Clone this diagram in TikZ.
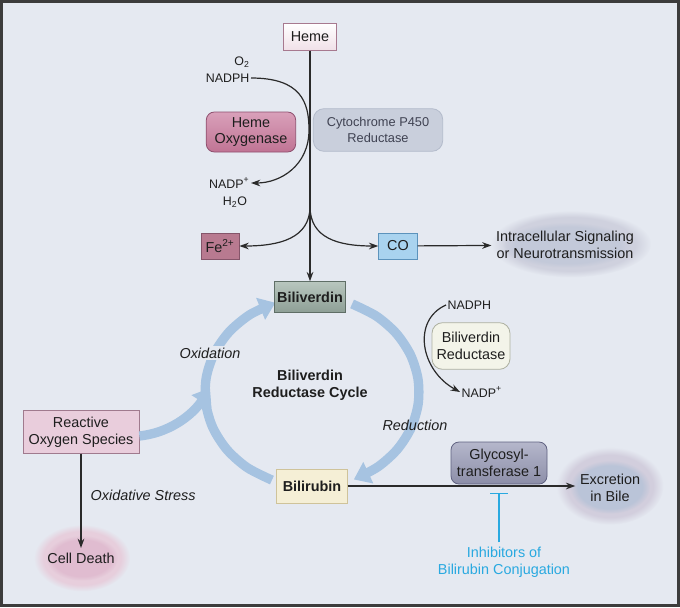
\documentclass[tikz,border=0pt]{standalone}
\usepackage{fontspec}
\setmainfont{Liberation Sans}
\usetikzlibrary{arrows.meta,calc,fadings}

\definecolor{bgpage}{HTML}{E5E9F1}
\definecolor{frame}{HTML}{3C3C3C}
\definecolor{txt}{HTML}{1E1E1E}
\definecolor{ln}{HTML}{2A2A2A}
\definecolor{hemefill}{HTML}{F0E0E8}
\definecolor{hemeln}{HTML}{A7798F}
\definecolor{hotop}{HTML}{D9A0BA}
\definecolor{hofill}{HTML}{C07494}
\definecolor{holn}{HTML}{8E4F6E}
\definecolor{cyfill}{HTML}{C9CFDC}
\definecolor{cyln}{HTML}{B3BBCB}
\definecolor{cytxt}{HTML}{3F4252}
\definecolor{fefill}{HTML}{B87A90}
\definecolor{feln}{HTML}{85556A}
\definecolor{cofill}{HTML}{A9D3EF}
\definecolor{coln}{HTML}{5C93BC}
\definecolor{sighalo}{HTML}{CFD1DE}
\definecolor{sigcore}{HTML}{C3C9D9}
\definecolor{bvtop}{HTML}{B8C6BE}
\definecolor{bvfill}{HTML}{8E9F96}
\definecolor{bvln}{HTML}{5F6E66}
\definecolor{brfill}{HTML}{F5EFD6}
\definecolor{brln}{HTML}{CFC39A}
\definecolor{bvrfill}{HTML}{F3F4E9}
\definecolor{bvrln}{HTML}{ADB0A0}
\definecolor{gttop}{HTML}{B5B7CB}
\definecolor{gtfill}{HTML}{8C8EA8}
\definecolor{gtln}{HTML}{5F6180}
\definecolor{bilehalo}{HTML}{D2CEDD}
\definecolor{bilecore}{HTML}{BAC4D8}
\definecolor{rosfill}{HTML}{E9CDDC}
\definecolor{rosln}{HTML}{A07A8E}
\definecolor{deathhalo}{HTML}{E7CEDC}
\definecolor{deathcore}{HTML}{E0BCD0}
\definecolor{cycblue}{HTML}{A6C3E1}
\definecolor{inhblue}{HTML}{29A9E0}

\begin{document}
\begin{tikzpicture}[x=0.75pt, y=-0.75pt,
  every node/.style={align=center, text=txt, font=\fontsize{10.8}{12.5}\selectfont},
  box/.style={draw, line width=0.6pt, inner sep=2pt},
  rbox/.style={box, rounded corners=6pt},
  small/.style={font=\fontsize{9.3}{11}\selectfont, inner sep=1pt},
  rxn/.style={draw=ln, line width=0.9pt, -{Stealth[length=7pt, width=5pt]}},
  cyc/.style={draw=cycblue, line width=7pt, -{Triangle[length=12pt, width=17pt]}},
  inhib/.style={draw=inhblue, line width=1.1pt, -{Bar[width=13pt]}},
  haze/.style={path fading=circle with fuzzy edge 20 percent},
]
  \useasboundingbox (0,0) rectangle (680,607);
  \draw[fill=bgpage, draw=frame, line width=2pt] (1.3,1.3) rectangle (678.7,605.7);

  % soft clouds
  \fill[sighalo, haze] (571,244) ellipse [x radius=60pt, y radius=25pt];
  \fill[sigcore, haze] (567,245) ellipse [x radius=48pt, y radius=17pt];
  \fill[bilehalo, haze] (610,486) ellipse [x radius=40pt, y radius=29pt];
  \fill[bilecore, haze] (610,487) ellipse [x radius=30pt, y radius=20pt];
  \fill[deathhalo, haze] (82,558) ellipse [x radius=36pt, y radius=25pt];
  \fill[deathcore, haze] (82,558) ellipse [x radius=27pt, y radius=17pt];

  % cycle
  \draw[cyc] plot[smooth, domain=-68:67, samples=10] ({312+107*cos(\x)},{392+95*sin(\x)});
  \draw[cyc] plot[smooth, domain=112:250, samples=10] ({312+107*cos(\x)},{392+95*sin(\x)});

  \node[box, draw=hemeln, top color=white, bottom color=hemefill,
        minimum width=40pt, minimum height=20pt] (heme) at (310,37) {Heme};
  \node[rbox, draw=holn, top color=hotop, bottom color=hofill,
        minimum width=67pt, minimum height=30pt] (ho) at (251,132) {Heme\\Oxygenase};
  \node[rbox, rounded corners=8pt, draw=cyln, fill=cyfill, text=cytxt,
        font=\fontsize{9.6}{12}\selectfont,
        minimum width=97pt, minimum height=32pt] (p450) at (378,130) {Cytochrome P450\\Reductase};
  \node[box, draw=feln, fill=fefill, minimum width=28.5pt, minimum height=19.5pt] (fe) at (220,246) {Fe\textsuperscript{2+}};
  \node[box, draw=coln, fill=cofill, minimum width=29pt, minimum height=19.5pt] (co) at (398,246) {CO};
  \node (signal) at (565,245) {Intracellular Signaling\\or Neurotransmission};

  \node[small] (o2) at (242,62) {O\textsubscript{2}};
  \node[small, anchor=east] (nadph) at (251,78) {NADPH};
  \node[small, anchor=east] (nadp) at (251,183) {NADP\textsuperscript{+}};
  \node[small] (water) at (235,202) {H\textsubscript{2}O};

  \node[box, draw=bvln, top color=bvtop, bottom color=bvfill, font=\fontsize{10.8}{12.5}\selectfont\bfseries,
        minimum width=52.5pt, minimum height=23pt] (bv) at (310,297) {Biliverdin};
  \node[box, draw=brln, fill=brfill, font=\fontsize{10.8}{12.5}\selectfont\bfseries,
        minimum width=53pt, minimum height=25.5pt] (br) at (312,486) {Bilirubin};
  \node[font=\fontsize{10.8}{12.5}\selectfont\bfseries] (cycle) at (310,385) {Biliverdin\\Reductase Cycle};
  \node[font=\fontsize{10.8}{12.5}\selectfont\itshape, fill=bgpage, inner sep=1pt] (ox) at (210,353) {Oxidation};
  \node[font=\fontsize{10.8}{12.5}\selectfont\itshape] (red) at (415,425) {Reduction};

  \node[rbox, rounded corners=8pt, draw=bvrln, fill=bvrfill,
        minimum width=58.5pt, minimum height=35pt] (bvr) at (471,346) {Biliverdin\\Reductase};
  \node[small, anchor=west] (nadphb) at (446,305) {NADPH};
  \node[small, anchor=west] (nadpb) at (460,392) {NADP\textsuperscript{+}};

  \node[rbox, draw=gtln, top color=gttop, bottom color=gtfill,
        minimum width=72pt, minimum height=31.5pt] (gt) at (499,463) {Glycosyl-\\transferase 1};
  \node (bile) at (610,488) {Excretion\\in Bile};
  \node[text=inhblue] (inh) at (504,562) {Inhibitors of\\Bilirubin Conjugation};

  \node[box, draw=rosln, fill=rosfill, minimum width=87pt, minimum height=32pt] (ros) at (81,432) {Reactive\\Oxygen Species};
  \node (death) at (81,558) {Cell Death};
  \node[font=\fontsize{10.8}{12.5}\selectfont\itshape, anchor=west] (stress) at (86,495) {Oxidative Stress};

  % reactions
  \coordinate (split) at ($(heme.south)!0.675!(bv.north)$);
  \draw[rxn] (heme) -- (bv);
  \draw[rxn] (nadph.east) .. controls +(50,0) and +(0,-28) .. (309,130)
             .. controls +(0,35) and +(30,0) .. (nadp.east);
  \draw[rxn] (split) .. controls +(0,32) and +(40,0) .. (fe.east);
  \draw[rxn] (split) .. controls +(0,32) and +(-40,0) .. (co.west);
  \draw[rxn] (co) -- (signal);
  \draw[rxn] (nadphb.west) .. controls +(-34,15) and +(-40,-22) .. (nadpb.west);
  \draw[rxn] (br.east) -- (br.east -| bile.west);
  \draw[rxn] (ros) -- (death);
  \coordinate (block) at (499,493);
  \draw[inhib] (inh.north -| block) -- (block);
  \draw[cyc] ($(ros.east)+(0,4)$) .. controls (175,432) and (196,410) .. (210,388);
\end{tikzpicture}
\end{document}
